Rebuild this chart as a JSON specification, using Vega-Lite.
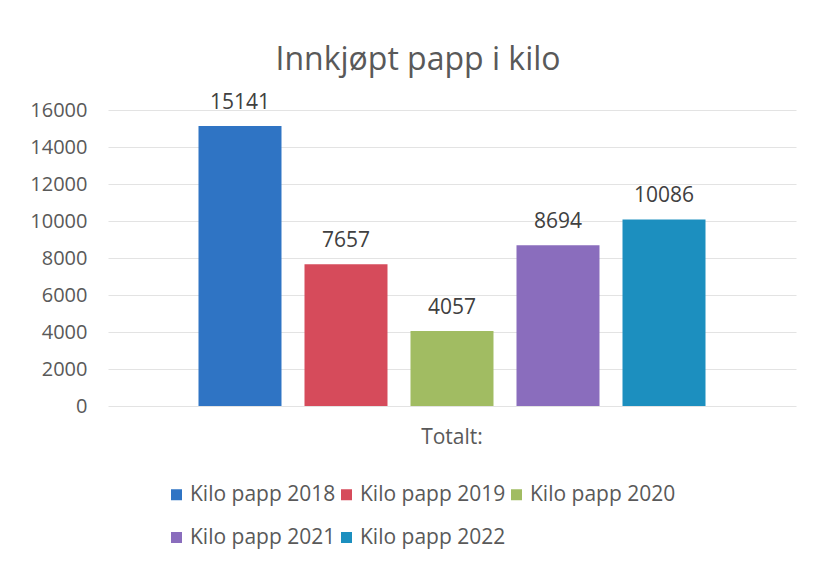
{
  "$schema": "https://vega.github.io/schema/vega-lite/v6.json",
  "width": 688,
  "height": 296,
  "autosize": {"type": "none"},
  "padding": {"left": 108, "top": 110, "right": 23, "bottom": 156},
  "background": "white",
  "title": {
    "text": "Innkjøpt papp i kilo",
    "font": "Open Sans",
    "fontSize": 32,
    "fontWeight": "normal",
    "color": "#595959",
    "anchor": "middle",
    "dx": -34,
    "offset": 15
  },
  "config": {
    "view": {"stroke": null},
    "font": "Open Sans"
  },
  "data": {
    "values": [
      {"kategori": "Totalt:", "serie": "Kilo papp 2018", "kilo": 15141},
      {"kategori": "Totalt:", "serie": "Kilo papp 2019", "kilo": 7657},
      {"kategori": "Totalt:", "serie": "Kilo papp 2020", "kilo": 4057},
      {"kategori": "Totalt:", "serie": "Kilo papp 2021", "kilo": 8694},
      {"kategori": "Totalt:", "serie": "Kilo papp 2022", "kilo": 10086}
    ]
  },
  "encoding": {
    "x": {
      "field": "kategori",
      "type": "nominal",
      "scale": {"paddingInner": 0, "paddingOuter": 0.1785},
      "axis": {
        "title": null,
        "labelAngle": 0,
        "labelFont": "Open Sans",
        "labelFontSize": 21,
        "labelColor": "#595959",
        "ticks": false,
        "domain": false,
        "grid": false,
        "labelPadding": 20
      }
    },
    "xOffset": {
      "field": "serie",
      "type": "nominal",
      "scale": {"paddingInner": 0.217, "paddingOuter": 0}
    },
    "y": {
      "field": "kilo",
      "type": "quantitative",
      "scale": {"domain": [0, 16000]},
      "axis": {
        "title": null,
        "values": [0, 2000, 4000, 6000, 8000, 10000, 12000, 14000, 16000],
        "format": "d",
        "labelFont": "Open Sans",
        "labelFontSize": 20,
        "labelColor": "#595959",
        "labelPadding": 21,
        "ticks": false,
        "domain": false,
        "grid": true,
        "gridColor": "#e3e3e3",
        "gridWidth": 1
      }
    }
  },
  "layer": [
    {
      "mark": {"type": "bar"},
      "encoding": {
        "color": {
          "field": "serie",
          "type": "nominal",
          "scale": {
            "domain": ["Kilo papp 2018", "Kilo papp 2019", "Kilo papp 2020", "Kilo papp 2021", "Kilo papp 2022"],
            "range": ["#2f74c4", "#d64b5b", "#a1bc62", "#8a6dbd", "#1c8fbf"]
          },
          "legend": {
            "title": null,
            "orient": "none",
            "legendX": 58,
            "legendY": 374,
            "direction": "horizontal",
            "columns": 3,
            "symbolType": "square",
            "symbolSize": 121,
            "symbolStrokeWidth": 0,
            "labelFont": "Open Sans",
            "labelFontSize": 21,
            "labelColor": "#595959",
            "labelOffset": 3,
            "columnPadding": 0,
            "rowPadding": 21,
            "padding": 0,
            "labelLimit": 300
          }
        }
      }
    },
    {
      "mark": {
        "type": "text",
        "font": "Open Sans",
        "fontSize": 21,
        "color": "#404040",
        "baseline": "alphabetic",
        "dy": -17
      },
      "encoding": {
        "text": {"field": "kilo", "type": "quantitative", "format": "d"}
      }
    }
  ]
}
